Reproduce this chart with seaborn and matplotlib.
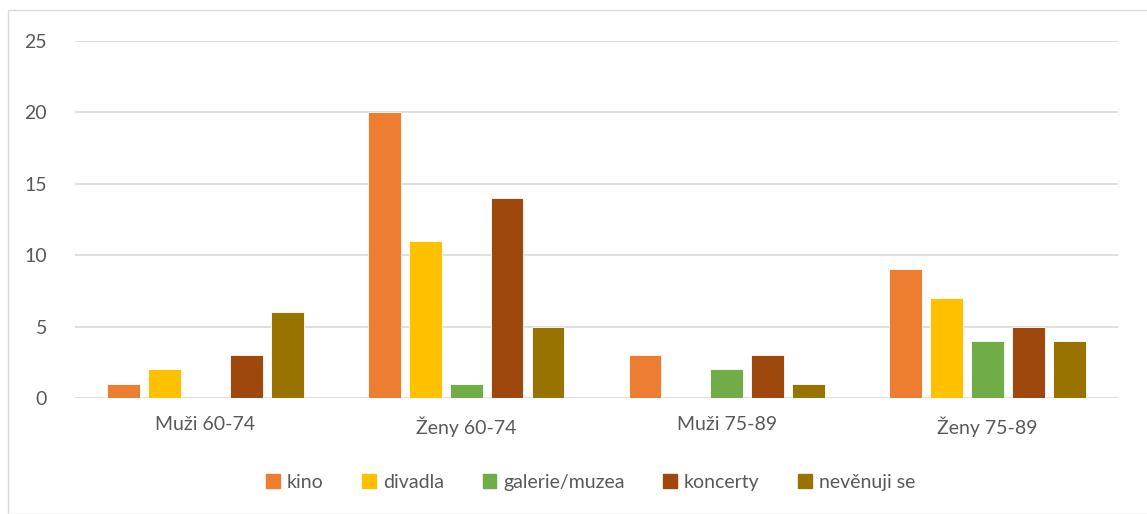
import pandas as pd
import matplotlib.pyplot as plt
import matplotlib.patches as mpatches
import seaborn as sns

# data
groups = ["Muži 60-74", "Ženy 60-74", "Muži 75-89", "Ženy 75-89"]
series = ["kino", "divadla", "galerie/muzea", "koncerty", "nevěnuji se"]
kino = [1, 20, 3, 9]
divadla = [2, 11, 0, 7]
galerie = [0, 1, 2, 4]
koncerty = [3, 14, 3, 5]
nevenuji = [6, 5, 1, 4]
colors = ["#ED7D31", "#FFC000", "#70AD47", "#9E480E", "#997300"]

rows = []
for name, vals in zip(series, [kino, divadla, galerie, koncerty, nevenuji]):
    for g, v in zip(groups, vals):
        rows.append({"skupina": g, "aktivita": name, "pocet": v})
df = pd.DataFrame(rows)

sns.set_style("white")
plt.rcParams['font.family'] = ['Lato', 'DejaVu Sans']

fig = plt.figure(figsize=(11.47, 5.14), dpi=100)
ax = fig.add_axes([0.0654, 0.2257, 0.9093, 0.6945])

sns.barplot(data=df, x="skupina", y="pocet", hue="aktivita", order=groups,
            hue_order=series, palette=colors, saturation=1, width=0.785, gap=0.2,
            edgecolor="white", linewidth=0.6, ax=ax, legend=False, zorder=3)

ax.set_ylim(0, 25)
ax.set_yticks(range(0, 26, 5))
ax.grid(axis="y", color="#D9D9D9", linewidth=1.2, zorder=0)
ax.set_axisbelow(True)
for s in ["left", "right", "top", "bottom"]:
    ax.spines[s].set_visible(False)
ax.set_xlabel("")
ax.set_ylabel("")
ax.tick_params(axis="both", length=0, labelsize=14, colors="#595959", pad=13)
ax.tick_params(axis="y", pad=20)

handles = [mpatches.Patch(color=c, label=s) for c, s in zip(colors, series)]
fig.legend(handles=handles, loc="center", bbox_to_anchor=(0.515, 0.062), ncol=5,
           frameon=False, fontsize=14, handlelength=0.7, handleheight=0.7,
           handletextpad=0.35, columnspacing=2.0, labelcolor="#595959")

# chart frame
fig.patches.append(mpatches.Rectangle((8 / 1147, 0), 1.1, 1 - 10 / 514,
                                      transform=fig.transFigure, fill=False,
                                      edgecolor="#D9D9D9", linewidth=1))

fig.savefig("out.png", dpi=100)
